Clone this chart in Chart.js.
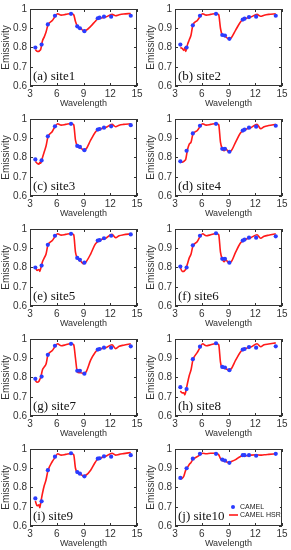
<!DOCTYPE html>
<html>
<head>
<meta charset="utf-8">
<script src="https://cdn.jsdelivr.net/npm/chart.js@4.4.1/dist/chart.umd.min.js"></script>
<style>
  html, body { margin: 0; padding: 0; background: #fff; }
  #grid { position: relative; width: 291px; height: 550px; }
  .cell { position: absolute; width: 145px; height: 110px; }
</style>
</head>
<body>
<div id="grid"></div>
<script>
// CAMEL hinge-point wavelengths (um)
const camelWl = [3.6, 4.3, 5.0, 5.8, 7.6, 8.3, 8.6, 9.1, 10.6, 10.8, 11.3, 12.1, 14.3];
// CAMEL HSR wavelengths (um)
const hsrWl = [3.6, 3.8, 4.0, 4.1, 4.2, 4.4, 4.6, 4.8, 5.0, 5.5, 5.8, 6.1, 6.5, 7.0, 7.6, 7.9,
  8.1, 8.3, 8.5, 8.7, 9.0, 9.3, 9.8, 10.3, 10.6, 11.0, 11.5, 12.2, 12.6, 13.0, 13.5, 14.3];

const siteLabels = ["(a) site1", "(b) site2", "(c) site3", "(d) site4", "(e) site5",
  "(f) site6", "(g) site7", "(h) site8", "(i) site9", "(j) site10"];

const camel1 = [0.80, 0.815, 0.92, 0.965, 0.975, 0.91, 0.90, 0.885, 0.952, 0.955, 0.96, 0.96, 0.965];
const camel2 = [0.815, 0.80, 0.915, 0.965, 0.975, 0.865, 0.862, 0.845, 0.945, 0.95, 0.958, 0.96, 0.965];
const camel3 = [0.79, 0.785, 0.91, 0.962, 0.975, 0.86, 0.855, 0.838, 0.945, 0.948, 0.955, 0.962, 0.968];
const camel4 = [0.78, 0.835, 0.925, 0.965, 0.975, 0.845, 0.845, 0.83, 0.94, 0.945, 0.955, 0.96, 0.965];
const camel5 = [0.80, 0.81, 0.918, 0.965, 0.975, 0.85, 0.84, 0.825, 0.94, 0.942, 0.952, 0.965, 0.972];
const camel6 = [0.805, 0.80, 0.915, 0.965, 0.978, 0.845, 0.845, 0.825, 0.94, 0.945, 0.955, 0.955, 0.962];
const camel7 = [0.793, 0.805, 0.918, 0.965, 0.975, 0.835, 0.835, 0.82, 0.945, 0.948, 0.955, 0.955, 0.962];
const camel8 = [0.75, 0.74, 0.895, 0.96, 0.978, 0.855, 0.852, 0.838, 0.945, 0.948, 0.958, 0.955, 0.962];
const camel9 = [0.743, 0.728, 0.89, 0.96, 0.978, 0.88, 0.872, 0.858, 0.95, 0.952, 0.962, 0.96, 0.968];
const camel10 = [0.85, 0.90, 0.95, 0.975, 0.975, 0.945, 0.94, 0.928, 0.968, 0.968, 0.968, 0.965, 0.975];

const hsr1 = [0.79, 0.78, 0.78, 0.785, 0.79, 0.835, 0.855, 0.88, 0.915, 0.94, 0.96, 0.975, 0.968, 0.972, 0.977, 0.97,
  0.935, 0.912, 0.903, 0.898, 0.888, 0.89, 0.91, 0.935, 0.95, 0.953, 0.958, 0.972, 0.965, 0.97, 0.974, 0.977];
const hsr2 = [0.80, 0.795, 0.785, 0.80, 0.78, 0.815, 0.84, 0.865, 0.915, 0.94, 0.96, 0.975, 0.968, 0.972, 0.977, 0.97,
  0.90, 0.865, 0.86, 0.855, 0.845, 0.85, 0.89, 0.93, 0.945, 0.952, 0.958, 0.972, 0.962, 0.968, 0.972, 0.975];
const hsr3 = [0.78, 0.77, 0.765, 0.775, 0.77, 0.80, 0.83, 0.86, 0.905, 0.935, 0.96, 0.975, 0.968, 0.972, 0.977, 0.97,
  0.89, 0.86, 0.852, 0.848, 0.84, 0.845, 0.89, 0.93, 0.945, 0.95, 0.956, 0.972, 0.96, 0.968, 0.972, 0.975];
const hsr4 = [0.78, 0.775, 0.78, 0.785, 0.79, 0.84, 0.87, 0.88, 0.92, 0.94, 0.96, 0.975, 0.968, 0.972, 0.977, 0.97,
  0.88, 0.845, 0.835, 0.845, 0.83, 0.835, 0.88, 0.925, 0.94, 0.948, 0.955, 0.972, 0.95, 0.96, 0.966, 0.972];
const hsr5 = [0.80, 0.785, 0.79, 0.78, 0.795, 0.83, 0.85, 0.87, 0.915, 0.94, 0.96, 0.975, 0.968, 0.972, 0.977, 0.97,
  0.88, 0.85, 0.838, 0.832, 0.82, 0.83, 0.87, 0.92, 0.935, 0.945, 0.952, 0.972, 0.955, 0.965, 0.97, 0.975];
const hsr6 = [0.80, 0.78, 0.78, 0.785, 0.79, 0.82, 0.85, 0.87, 0.91, 0.935, 0.96, 0.975, 0.965, 0.97, 0.977, 0.97,
  0.88, 0.845, 0.83, 0.84, 0.825, 0.83, 0.88, 0.925, 0.94, 0.948, 0.955, 0.97, 0.952, 0.962, 0.968, 0.975];
const hsr7 = [0.785, 0.775, 0.78, 0.79, 0.80, 0.84, 0.855, 0.87, 0.915, 0.94, 0.96, 0.975, 0.965, 0.97, 0.977, 0.97,
  0.90, 0.83, 0.825, 0.825, 0.82, 0.83, 0.89, 0.93, 0.945, 0.95, 0.955, 0.97, 0.95, 0.962, 0.968, 0.975];
const hsr8 = [0.73, 0.72, 0.72, 0.71, 0.725, 0.77, 0.81, 0.84, 0.89, 0.93, 0.955, 0.975, 0.965, 0.97, 0.977, 0.97,
  0.88, 0.85, 0.848, 0.845, 0.84, 0.845, 0.89, 0.93, 0.945, 0.952, 0.958, 0.975, 0.96, 0.97, 0.974, 0.98];
const hsr9 = [0.73, 0.705, 0.71, 0.695, 0.72, 0.77, 0.81, 0.84, 0.885, 0.935, 0.955, 0.975, 0.968, 0.972, 0.977, 0.97,
  0.90, 0.88, 0.872, 0.868, 0.86, 0.865, 0.89, 0.93, 0.948, 0.955, 0.962, 0.978, 0.968, 0.972, 0.976, 0.982];
const hsr10 = [0.845, 0.848, 0.86, 0.875, 0.89, 0.905, 0.92, 0.93, 0.945, 0.96, 0.97, 0.978, 0.975, 0.978, 0.978, 0.97,
  0.95, 0.94, 0.937, 0.935, 0.93, 0.935, 0.945, 0.96, 0.965, 0.965, 0.968, 0.97, 0.968, 0.97, 0.972, 0.975];

const camelSets = [camel1, camel2, camel3, camel4, camel5, camel6, camel7, camel8, camel9, camel10];
const hsrSets = [hsr1, hsr2, hsr3, hsr4, hsr5, hsr6, hsr7, hsr8, hsr9, hsr10];

const xTicks = [3, 6, 9, 12, 15];
const yTicks = [0.6, 0.7, 0.8, 0.9, 1];

const SANS = "Arial, 'Liberation Sans', sans-serif";
const SERIF = "'Times New Roman', 'Liberation Serif', serif";
const AXIS = "#333";
const BLUE = "#2b3cff";
const RED = "#ff1a1a";

// frame, inward ticks, panel label, legend
const framePlugin = {
  id: "frame",
  afterDraw(chart, args, opts) {
    const { ctx, chartArea: a, scales } = chart;
    ctx.save();
    ctx.strokeStyle = AXIS;
    ctx.lineWidth = 1;
    ctx.strokeRect(a.left + 0.5, a.top + 0.5, a.right - a.left - 1, a.bottom - a.top - 1);
    ctx.beginPath();
    xTicks.forEach(v => {
      const px = Math.round(scales.x.getPixelForValue(v)) + 0.5;
      ctx.moveTo(px, a.bottom); ctx.lineTo(px, a.bottom - 3);
      ctx.moveTo(px, a.top); ctx.lineTo(px, a.top + 3);
    });
    yTicks.forEach(v => {
      const py = Math.round(scales.y.getPixelForValue(v)) + 0.5;
      ctx.moveTo(a.left, py); ctx.lineTo(a.left + 3, py);
      ctx.moveTo(a.right, py); ctx.lineTo(a.right - 3, py);
    });
    ctx.stroke();

    ctx.fillStyle = "#111";
    ctx.font = "13px " + SERIF;
    ctx.textBaseline = "alphabetic";
    ctx.fillText(opts.label, a.left + 3, a.bottom - 6);

    if (opts.legend) {
      const lx = a.left + 53, ly = a.bottom - 23;
      ctx.fillStyle = "#fff";
      ctx.fillRect(lx, ly - 1, a.right - lx - 2, 19);
      ctx.fillStyle = BLUE;
      ctx.beginPath();
      ctx.arc(lx + 5, ly + 4, 2, 0, Math.PI * 2);
      ctx.fill();
      ctx.strokeStyle = RED;
      ctx.lineWidth = 1.6;
      ctx.beginPath();
      ctx.moveTo(lx + 1, ly + 12); ctx.lineTo(lx + 10, ly + 12);
      ctx.stroke();
      ctx.fillStyle = "#222";
      ctx.font = "7px " + SANS;
      ctx.textBaseline = "middle";
      ctx.fillText("CAMEL", lx + 12, ly + 4);
      ctx.fillText("CAMEL HSR", lx + 12, ly + 12);
    }
    ctx.restore();
  }
};

const grid = document.getElementById("grid");

siteLabels.forEach((label, i) => {
  const cell = document.createElement("div");
  cell.className = "cell";
  cell.style.left = (i % 2) * 145 + "px";
  cell.style.top = Math.floor(i / 2) * 110 + "px";
  const canvas = document.createElement("canvas");
  canvas.width = 145;
  canvas.height = 110;
  cell.appendChild(canvas);
  grid.appendChild(cell);

  new Chart(canvas, {
    type: "line",
    data: {
      datasets: [
        {
          label: "CAMEL HSR",
          data: hsrWl.map((w, k) => ({ x: w, y: hsrSets[i][k] })),
          borderColor: RED,
          borderWidth: 1.6,
          pointRadius: 0,
          cubicInterpolationMode: "monotone",
          fill: false,
          order: 2,
        },
        {
          label: "CAMEL",
          data: camelWl.map((w, k) => ({ x: w, y: camelSets[i][k] })),
          showLine: false,
          pointRadius: 2.1,
          pointBackgroundColor: BLUE,
          pointBorderColor: BLUE,
          pointBorderWidth: 0,
          order: 1,
        },
      ],
    },
    options: {
      responsive: false,
      animation: false,
      events: [],
      layout: { padding: { top: 6, right: 8, left: 0, bottom: 0 } },
      plugins: {
        legend: { display: false },
        tooltip: { enabled: false },
        frame: { label: label, legend: i === 9 },
      },
      scales: {
        x: {
          type: "linear",
          min: 3,
          max: 15,
          afterBuildTicks: s => { s.ticks = xTicks.map(v => ({ value: v })); },
          afterFit: s => { s.height = 24; },
          grid: { display: false, drawTicks: false, tickLength: 0 },
          border: { display: false },
          ticks: { color: AXIS, font: { size: 10, family: SANS }, padding: 2, maxRotation: 0 },
          title: { display: true, text: "Wavelength", color: AXIS, font: { size: 9, family: SANS }, padding: { top: 0, bottom: 1 } },
        },
        y: {
          min: 0.6,
          max: 1,
          afterBuildTicks: s => { s.ticks = yTicks.map(v => ({ value: v })); },
          afterFit: s => { s.width = 30; },
          grid: { display: false, drawTicks: false, tickLength: 0 },
          border: { display: false },
          ticks: { color: AXIS, font: { size: 10, family: SANS }, padding: 3, callback: v => String(+v.toFixed(1)) },
          title: { display: true, text: "Emissivity", color: AXIS, font: { size: 10, family: SANS }, padding: 0 },
        },
      },
    },
    plugins: [framePlugin],
  });
});
</script>
</body>
</html>
